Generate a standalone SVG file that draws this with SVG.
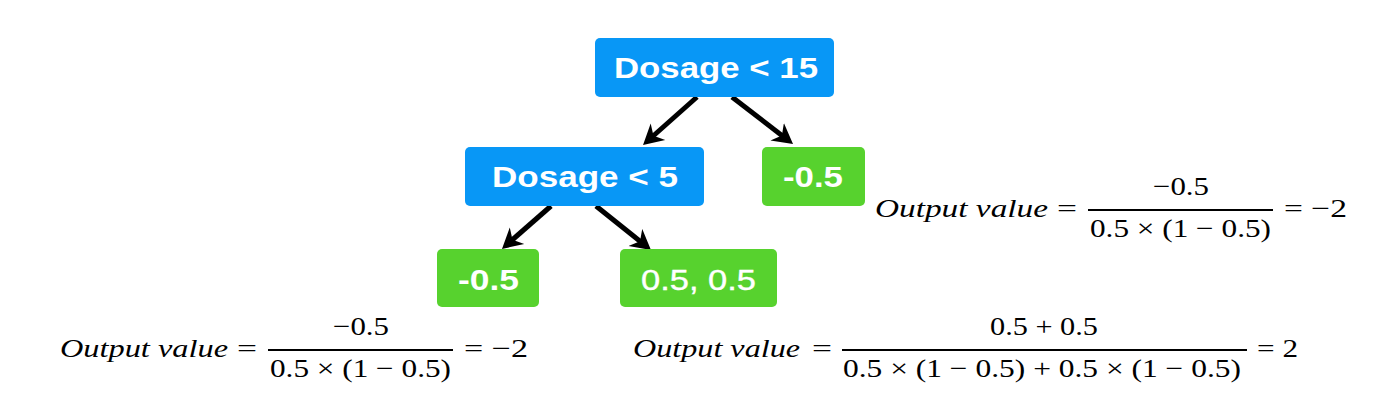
<svg xmlns="http://www.w3.org/2000/svg" width="1376" height="403" viewBox="0 0 1376 403">
<style>
.blue{fill:#0897F6}
.green{fill:#57D22E}
.nt{font-family:"Liberation Sans",Arial,sans-serif;font-weight:bold;font-size:29px;fill:#fff}
.nl{font-family:"Liberation Sans",Arial,sans-serif;font-weight:normal;font-size:29px;fill:#fff;stroke:#fff;stroke-width:0.4}
.conn{stroke:#000;stroke-width:5;fill:none;marker-end:url(#ah)}
.m{font-family:"Liberation Serif","Times New Roman",serif;font-size:26px;fill:#000}
.mi{font-style:italic}
.bar{stroke:#000;stroke-width:2}
</style>
<defs>
<marker id="ah" viewBox="0 -12 24 24" markerWidth="24" markerHeight="24" markerUnits="userSpaceOnUse" refX="8" refY="0" orient="auto">
<path d="M0,-11 L20,0 L0,11 L6,0 Z" fill="#000"/>
</marker>
</defs>
<rect width="1376" height="403" fill="#fff"/>
<g id="connectors">
<line class="conn" x1="697" y1="97" x2="652" y2="137"/>
<line class="conn" x1="732" y1="97" x2="783.5" y2="136.7"/>
<line class="conn" x1="551" y1="206" x2="511" y2="241"/>
<line class="conn" x1="596" y1="206" x2="641.6" y2="242.5"/>
</g>
<g id="n-root">
<rect class="blue" x="595" y="38" width="239" height="59" rx="5"/>
<text class="nt" x="614" y="78" textLength="204" lengthAdjust="spacingAndGlyphs">Dosage &lt; 15</text>
</g>
<g id="n-dosage5">
<rect class="blue" x="465" y="147" width="239" height="59" rx="5"/>
<text class="nt" x="492" y="187" textLength="186" lengthAdjust="spacingAndGlyphs">Dosage &lt; 5</text>
</g>
<g id="n-right">
<rect class="green" x="762" y="147" width="103" height="59" rx="5"/>
<text class="nt" x="783" y="187" textLength="60" lengthAdjust="spacingAndGlyphs">-0.5</text>
</g>
<g id="n-leftleaf">
<rect class="green" x="437" y="249" width="102" height="58" rx="5"/>
<text class="nt" x="458" y="290" textLength="61" lengthAdjust="spacingAndGlyphs">-0.5</text>
</g>
<g id="n-midleaf">
<rect class="green" x="620" y="249" width="157" height="58" rx="5"/>
<text class="nl" x="641" y="290" textLength="115" lengthAdjust="spacingAndGlyphs">0.5, 0.5</text>
</g>
<g id="formula-right">
<text class="m mi" x="875" y="217" textLength="173" lengthAdjust="spacingAndGlyphs">Output value</text>
<text class="m" x="1057" y="217" textLength="20" lengthAdjust="spacingAndGlyphs">=</text>
<line class="bar" x1="1088" y1="210" x2="1273" y2="210"/>
<text class="m" x="1153" y="195" textLength="56" lengthAdjust="spacingAndGlyphs">−0.5</text>
<text class="m" x="1090" y="237" textLength="181" lengthAdjust="spacingAndGlyphs">0.5 × (1 − 0.5)</text>
<text class="m" x="1284" y="217" textLength="63" lengthAdjust="spacingAndGlyphs">= −2</text>
</g>
<g id="formula-left">
<text class="m mi" x="60" y="357" textLength="168" lengthAdjust="spacingAndGlyphs">Output value</text>
<text class="m" x="237" y="357" textLength="20" lengthAdjust="spacingAndGlyphs">=</text>
<line class="bar" x1="268" y1="350" x2="453" y2="350"/>
<text class="m" x="333" y="335" textLength="56" lengthAdjust="spacingAndGlyphs">−0.5</text>
<text class="m" x="270" y="377" textLength="181" lengthAdjust="spacingAndGlyphs">0.5 × (1 − 0.5)</text>
<text class="m" x="464" y="357" textLength="64" lengthAdjust="spacingAndGlyphs">= −2</text>
</g>
<g id="formula-mid">
<text class="m mi" x="633" y="357" textLength="167" lengthAdjust="spacingAndGlyphs">Output value</text>
<text class="m" x="812" y="357" textLength="20" lengthAdjust="spacingAndGlyphs">=</text>
<line class="bar" x1="842" y1="350" x2="1247" y2="350"/>
<text class="m" x="990" y="335" textLength="108" lengthAdjust="spacingAndGlyphs">0.5 + 0.5</text>
<text class="m" x="843" y="377" textLength="398" lengthAdjust="spacingAndGlyphs">0.5 × (1 − 0.5) + 0.5 × (1 − 0.5)</text>
<text class="m" x="1257" y="357" textLength="41" lengthAdjust="spacingAndGlyphs">= 2</text>
</g>
</svg>
